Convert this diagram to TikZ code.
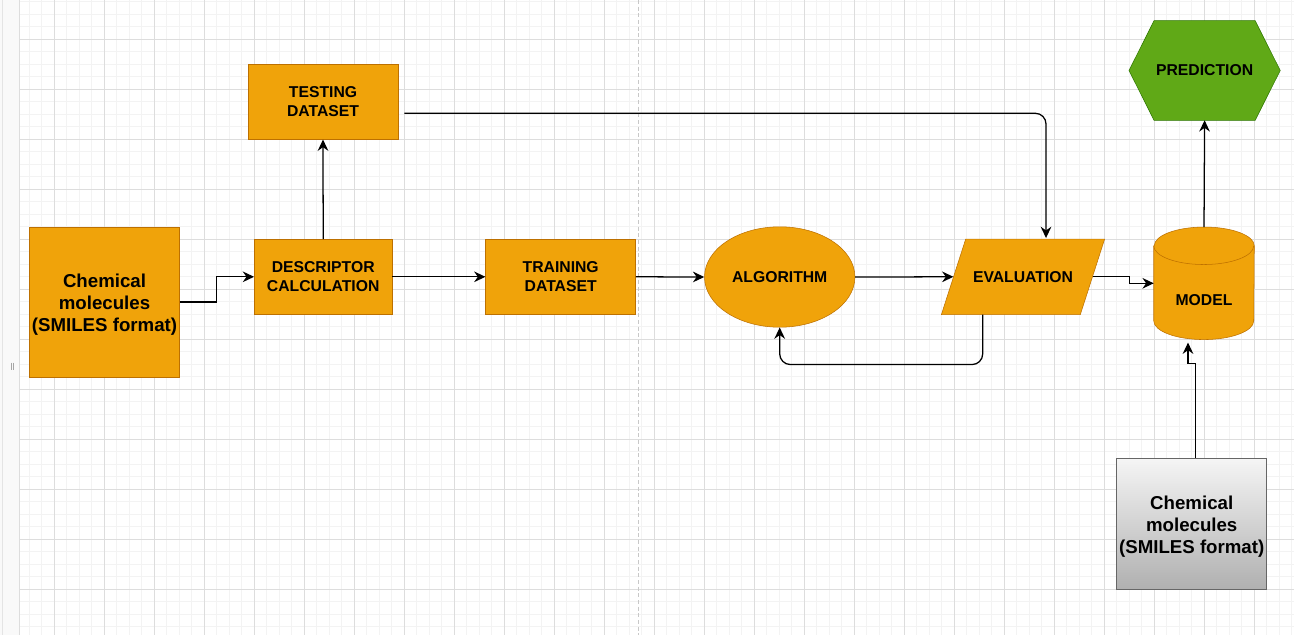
\documentclass[tikz,border=0pt]{standalone}
\usepackage{fontspec}
\setmainfont{Liberation Sans}
\usetikzlibrary{arrows.meta,calc,shapes.geometric}
\definecolor{orfill}{HTML}{F0A30A}
\definecolor{orline}{HTML}{BD7000}
\definecolor{grfill}{HTML}{60A917}
\definecolor{grline}{HTML}{2D7600}
\definecolor{gytop}{HTML}{F5F5F5}
\definecolor{gybot}{HTML}{B0B0B0}
\definecolor{gyline}{HTML}{666666}
\definecolor{minorgrid}{HTML}{F3F3F3}
\definecolor{majorgrid}{HTML}{DDDDDD}
\definecolor{pagebreak}{HTML}{C8C8C8}
\definecolor{stripfill}{HTML}{F9F9F9}
\definecolor{stripline}{HTML}{E4E4E4}
\definecolor{edgecol}{HTML}{000000}
\newcommand\labfont{\fontsize{11.8pt}{14.2pt}\selectfont\bfseries}
\newcommand\chemfont{\fontsize{14pt}{16.5pt}\selectfont\bfseries}
\newcommand\chemstrut{\rule{0pt}{14.2pt}}
\pgfdeclarelayer{gridlayer}
\pgfdeclarelayer{shapelayer}
\pgfsetlayers{gridlayer,shapelayer,main}
\begin{document}
\begin{tikzpicture}[x=0.75pt,y=-0.75pt,line width=0.75pt,
  orbox/.style={draw=orline,fill=orfill,inner sep=0pt,align=center,font=\labfont},
  chembox/.style={inner sep=0pt,align=center,font=\chemfont},
  ghost/.style={inner sep=0pt,align=center,font=\labfont},
  arr/.style={draw=edgecol,line width=0.95pt,-{Stealth[length=8.5pt,width=8pt,inset=2.8pt]}},
  minorline/.style={draw=minorgrid,line width=0.75pt},
  majorline/.style={draw=majorgrid,line width=0.75pt}]
\useasboundingbox (0,0) rectangle (1294,635);

% ---------------- background grid ----------------
\begin{pgfonlayer}{gridlayer}
\fill[white] (0,0) rectangle (1294,635);
\foreach \k in {0,...,101} \draw[minorline] ({29.3+12.5*\k},0) -- ++(0,635);
\foreach \k in {0,...,50} \draw[minorline] (19.5,{1.8+12.5*\k}) -- (1294,{1.8+12.5*\k});
\foreach \k in {0,...,24} \draw[majorline] ({54.3+50*\k},0) -- ++(0,635);
\foreach \k in {0,...,11} \draw[majorline] (19.5,{39.3+50*\k}) -- (1294,{39.3+50*\k});
\fill[stripfill] (0,0) rectangle (19.3,635);
\draw[stripline] (2.5,0) -- (2.5,635);
\draw[majorline] (19.7,0) -- (19.7,635);
\draw[draw=pagebreak,dash pattern=on 3pt off 2pt] (638.3,0) -- (638.3,635);
\draw[draw=gray!70,line width=0.6pt] (11.3,362.7) -- (11.3,370) (13.5,362.7) -- (13.5,370);
\end{pgfonlayer}

% ---------------- nodes ----------------
\node[orbox,font=\chemfont,minimum width=112.5pt,minimum height=112.5pt] (chem1) at (104.5,302) {\chemstrut Chemical\\molecules\\(SMILES format)};
\node[orbox,minimum width=103.3pt,minimum height=56.25pt] (desc) at (323.2,276.8) {DESCRIPTOR\\CALCULATION};
\node[orbox,minimum width=112.5pt,minimum height=56.25pt] (test) at (323,101.8) {TESTING\\DATASET};
\node[orbox,minimum width=112.5pt,minimum height=56.25pt] (train) at (560.7,276.8) {TRAINING\\DATASET};
\node[orbox,ellipse,minimum width=112.8pt,minimum height=75.3pt] (algo) at (779.7,277) {ALGORITHM};
\node[ghost,minimum width=122pt,minimum height=56.25pt] (eval) at (1023,276.8) {EVALUATION};
\node[ghost,minimum width=75pt,minimum height=84pt] (model) at (1204,283.3) {};
\node[ghost] (modellbl) at (1204,300) {MODEL};
\node[ghost,minimum width=113pt,minimum height=74.25pt] (pred) at (1204.6,70.5) {PREDICTION};
\node[chembox,draw=gyline,top color=gytop,bottom color=gybot,minimum width=112.5pt,minimum height=98pt] (chem2) at (1191.7,523.7) {\chemstrut Chemical\\molecules\\(SMILES format)};

% ---------------- custom shapes ----------------
\begin{pgfonlayer}{shapelayer}
\draw[draw=orline,fill=orfill] (eval.south west) -- ($(eval.north west)+(24.3,0)$) -- (eval.north east) -- ($(eval.south east)+(-24.3,0)$) -- cycle;
\draw[draw=grline,fill=grfill] (pred.west) -- ($(pred.north west)+(25,0)$) -- ($(pred.north east)+(-25,0)$) -- (pred.east) -- ($(pred.south east)+(-25,0)$) -- ($(pred.south west)+(25,0)$) -- cycle;
\draw[draw=orline,fill=orfill] ($(model.north west)+(0,18.75)$) -- ($(model.south west)+(0,-18.75)$) arc[start angle=180,end angle=0,x radius=50,y radius=18.75] -- ($(model.north east)+(0,18.75)$) arc[start angle=0,end angle=-180,x radius=50,y radius=18.75] -- cycle;
\draw[draw=orline] ($(model.north west)+(0,18.75)$) arc[start angle=180,end angle=0,x radius=50,y radius=18.75];
\end{pgfonlayer}

% ---------------- connectors ----------------
\draw[arr] (chem1.east) -- ++(37,0) |- (desc.west);
\draw[arr] (desc.north) -- (test.south);
\draw[arr,rounded corners=8] ($(test.east)+(6,11.5)$) -| ($(eval.north)+(23,-1)$);
\draw[arr] (desc.east) -- (train.west);
\draw[arr] (train.east) -- (algo.west);
\draw[arr] (algo.east) -- ($(eval.west)+(12,0)$);
\draw[arr,rounded corners=8] ($(eval.south)+(-40.3,0)$) -- ++(0,50) -| (algo.south);
\draw[arr] ($(eval.east)+(-12,0)$) -- ++(37,0) |- (model.west);
\draw[arr] ($(chem2.north)+(4,0)$) -- ++(0,-94.5) -| ($(model.south)+(-16,3)$);
\draw[arr] (model.north) -- (pred.south);
\end{tikzpicture}
\end{document}
